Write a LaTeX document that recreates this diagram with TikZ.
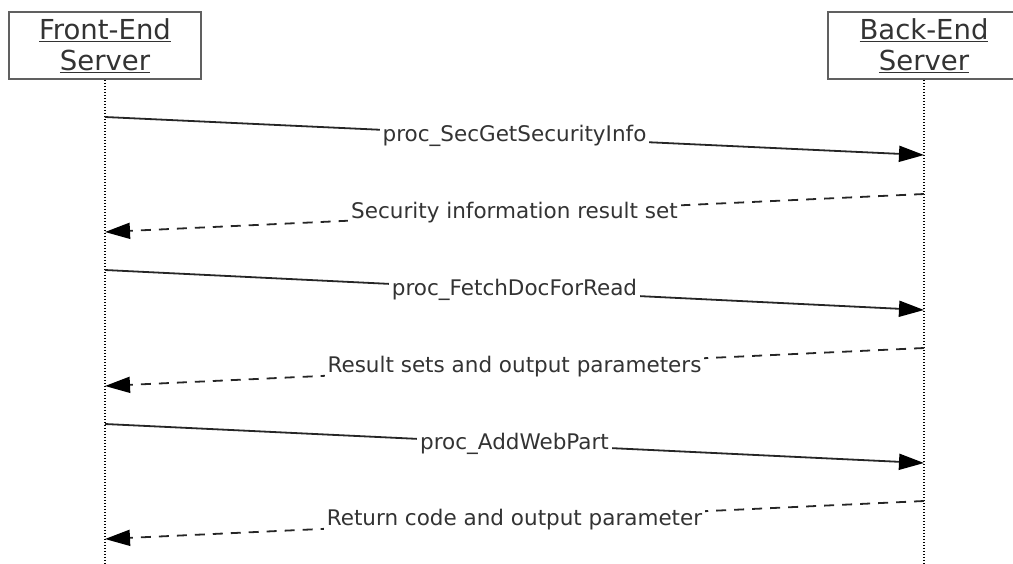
\documentclass[tikz,border=0pt]{standalone}
\usepackage{fontspec}
\setmainfont{DejaVu Sans}
\usetikzlibrary{arrows.meta}
\begin{document}
\begin{tikzpicture}[x=1pt, y=-1pt,
    lifebox/.style={draw=gray!75!black, line width=1.6pt, fill=white,
      minimum width=192pt, minimum height=67pt, inner sep=0pt,
      align=center, text=black!80, font=\fontsize{27.5}{31}\selectfont},
    lifeline/.style={line width=1.3pt, dash pattern=on 1.5pt off 1.5pt},
    msg/.style={line width=1.8pt, draw=black!85,
      -{Triangle[length=25pt, width=16pt, fill=black, color=black]}},
    reply/.style={msg, dash pattern=on 10pt off 8pt},
    msglabel/.style={fill=white, inner sep=3pt, text=black!80,
      font=\fontsize{21.5}{25}\selectfont}]
    \useasboundingbox (0,0) rectangle (1013,563);

    % the two servers and their lifelines
    \node[lifebox] (fe) at (105,45.5) {\underline{Front-End}\\ \underline{Server}};
    \node[lifebox] (be) at (924,45.5) {\underline{Back-End}\\ \underline{Server}};
    \coordinate (feend) at (105,563);
    \coordinate (beend) at (924,563);
    \draw[lifeline] (fe.south) -- (feend);
    \draw[lifeline] (be.south) -- (beend);

    % end points of the messages
    \coordinate (fe1) at (105,117); \coordinate (be1) at (924,155);
    \coordinate (be2) at (924,194); \coordinate (fe2) at (105,232);
    \coordinate (fe3) at (105,270); \coordinate (be3) at (924,310);
    \coordinate (be4) at (924,348); \coordinate (fe4) at (105,386);
    \coordinate (fe5) at (105,424); \coordinate (be5) at (924,463);
    \coordinate (be6) at (924,501); \coordinate (fe6) at (105,539);

    \draw[msg] (fe1) -- node[msglabel] {proc\_SecGetSecurityInfo} (be1);
    \draw[reply] (be2) -- node[msglabel] {Security information result set} (fe2);
    \draw[msg] (fe3) -- node[msglabel] {proc\_FetchDocForRead} (be3);
    \draw[reply] (be4) -- node[msglabel] {Result sets and output parameters} (fe4);
    \draw[msg] (fe5) -- node[msglabel] {proc\_AddWebPart} (be5);
    \draw[reply] (be6) -- node[msglabel] {Return code and output parameter} (fe6);
\end{tikzpicture}
\end{document}
